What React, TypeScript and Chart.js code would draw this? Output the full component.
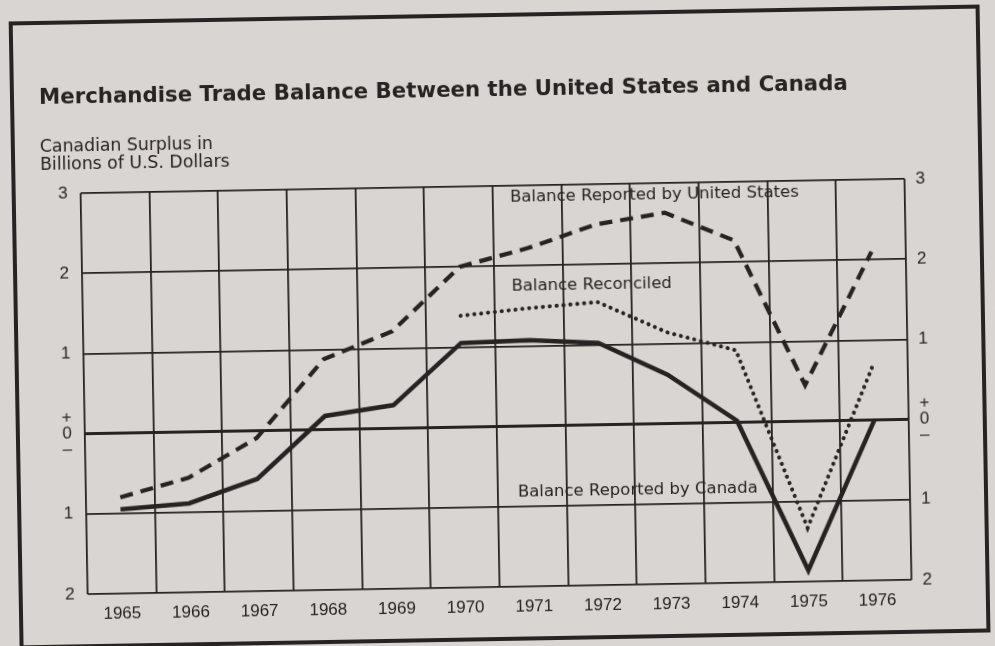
import React, { useEffect, useRef } from 'react';
import { Chart, registerables } from 'chart.js';

Chart.register(...registerables);

// ---------- data ----------
const years = ['1965', '1966', '1967', '1968', '1969', '1970', '1971', '1972', '1973', '1974', '1975', '1976'];
const canadaBalance = [-0.95, -0.89, -0.6, 0.17, 0.29, 1.05, 1.07, 1.02, 0.61, 0.02, -1.86, 0.0];
const unitedStatesBalance = [-0.8, -0.57, -0.09, 0.88, 1.21, 2.0, 2.22, 2.5, 2.63, 2.27, 0.45, 2.1];
const reconciledBalance = [null, null, null, null, null, 1.39, 1.47, 1.53, 1.14, 0.9, -1.33, 0.7];
const yTickValues = [-2, -1, 0, 1, 2, 3];
const chartTitle = 'Merchandise Trade Balance Between the United States and Canada';
const axisTitleLines = ['Canadian Surplus in', 'Billions of U.S. Dollars'];
const seriesNames = ['Balance Reported by United States', 'Balance Reconciled', 'Balance Reported by Canada'];

// ---------- style ----------
const PAPER = '#d9d5d2';
const INK = '#272323';
const TEXT_FONT = '"DejaVu Sans", "Liberation Sans", sans-serif';
const NUM_FONT = '"Liberation Sans", Arial, sans-serif';

const tickLabel = (v: number) => (v === 0 ? ['+', '0', '\u2013'] : String(Math.abs(v)));

const decorPlugin = {
  id: 'decor',
  beforeDraw(chart: any) {
    const { ctx } = chart;
    ctx.save();
    ctx.fillStyle = PAPER;
    ctx.fillRect(0, 0, chart.width, chart.height);
    ctx.restore();
  },
  afterDatasetsDraw(chart: any) {
    const { ctx, scales } = chart;
    const x = scales.x;
    const y = scales.y;
    // label anchors in data space (category index, value)
    const anchors = [
      { i: 5.75, v: 2.86 },
      { i: 5.75, v: 1.75 },
      { i: 5.79, v: -0.83 },
    ];
    ctx.save();
    ctx.fillStyle = INK;
    ctx.font = `16.5px ${TEXT_FONT}`;
    ctx.textAlign = 'left';
    ctx.textBaseline = 'middle';
    seriesNames.forEach((name, k) => {
      ctx.fillText(name, x.getPixelForValue(anchors[k].i), y.getPixelForValue(anchors[k].v));
    });
    ctx.restore();
  },
  afterDraw(chart: any) {
    const { ctx } = chart;
    ctx.save();
    // frame
    ctx.strokeStyle = INK;
    ctx.lineWidth = 4;
    ctx.strokeRect(16, 15, 967, 624);
    // title
    ctx.fillStyle = INK;
    ctx.textAlign = 'left';
    ctx.textBaseline = 'middle';
    ctx.font = `bold 21.3px ${TEXT_FONT}`;
    ctx.fillText(chartTitle, 43, 90);
    // axis title
    ctx.font = `17.3px ${TEXT_FONT}`;
    axisTitleLines.forEach((line, k) => ctx.fillText(line, 43, 140 + k * 18));
    ctx.restore();
  },
};

export default function App() {
  const canvasRef = useRef<HTMLCanvasElement | null>(null);

  useEffect(() => {
    document.body.style.margin = '0';
    document.body.style.background = PAPER;
    const canvas = canvasRef.current;
    if (!canvas) return;

    const chart = new Chart(canvas, {
      type: 'line',
      data: {
        labels: years,
        datasets: [
          {
            label: seriesNames[2],
            data: canadaBalance,
            borderColor: INK,
            borderWidth: 4.5,
            pointRadius: 0,
            tension: 0,
            borderJoinStyle: 'miter',
          },
          {
            label: seriesNames[0],
            data: unitedStatesBalance,
            borderColor: INK,
            borderWidth: 4.2,
            borderDash: [13, 8],
            pointRadius: 0,
            tension: 0,
            borderJoinStyle: 'miter',
          },
          {
            label: seriesNames[1],
            data: reconciledBalance,
            borderColor: INK,
            borderWidth: 4,
            borderDash: [0.1, 6.8],
            borderCapStyle: 'round',
            pointRadius: 0,
            tension: 0,
            spanGaps: false,
          },
        ],
      },
      options: {
        responsive: false,
        animation: false,
        devicePixelRatio: 1,
        layout: { padding: { left: 0, right: 0, top: 186, bottom: 0 } },
        plugins: {
          legend: { display: false },
          title: { display: false },
          tooltip: { enabled: false },
        },
        scales: {
          x: {
            type: 'category',
            offset: true,
            grid: { offset: true, color: INK, lineWidth: 1.8, drawTicks: false },
            border: { display: false },
            ticks: { color: INK, font: { family: NUM_FONT, size: 17 }, padding: 10, maxRotation: 0, autoSkip: false },
            afterFit: (s: any) => { s.height = 59; },
          },
          y: {
            position: 'left',
            min: -2,
            max: 3,
            afterBuildTicks: (s: any) => { s.ticks = yTickValues.map((v) => ({ value: v })); },
            grid: {
              color: INK,
              lineWidth: (c: any) => (c.tick && c.tick.value === 0 ? 3 : 1.8),
              drawTicks: false,
            },
            border: { display: false },
            ticks: { color: INK, font: { family: NUM_FONT, size: 17, lineHeight: 0.95 }, padding: 13, callback: (v: any) => tickLabel(Number(v)) },
            afterFit: (s: any) => { s.width = 83; },
          },
          y2: {
            position: 'right',
            min: -2,
            max: 3,
            afterBuildTicks: (s: any) => { s.ticks = yTickValues.map((v) => ({ value: v })); },
            grid: { display: false, drawTicks: false },
            border: { display: false },
            ticks: { color: INK, font: { family: NUM_FONT, size: 17, lineHeight: 0.95 }, padding: 11, callback: (v: any) => tickLabel(Number(v)) },
            afterFit: (s: any) => { s.width = 88; },
          },
        },
      },
      plugins: [decorPlugin],
    } as any);

    return () => chart.destroy();
  }, []);

  return (
    <div style={{ width: 995, height: 646, transform: 'rotate(-1deg)', transformOrigin: '50% 50%' }}>
      <canvas ref={canvasRef} width={995} height={646} style={{ display: 'block' }} />
    </div>
  );
}
